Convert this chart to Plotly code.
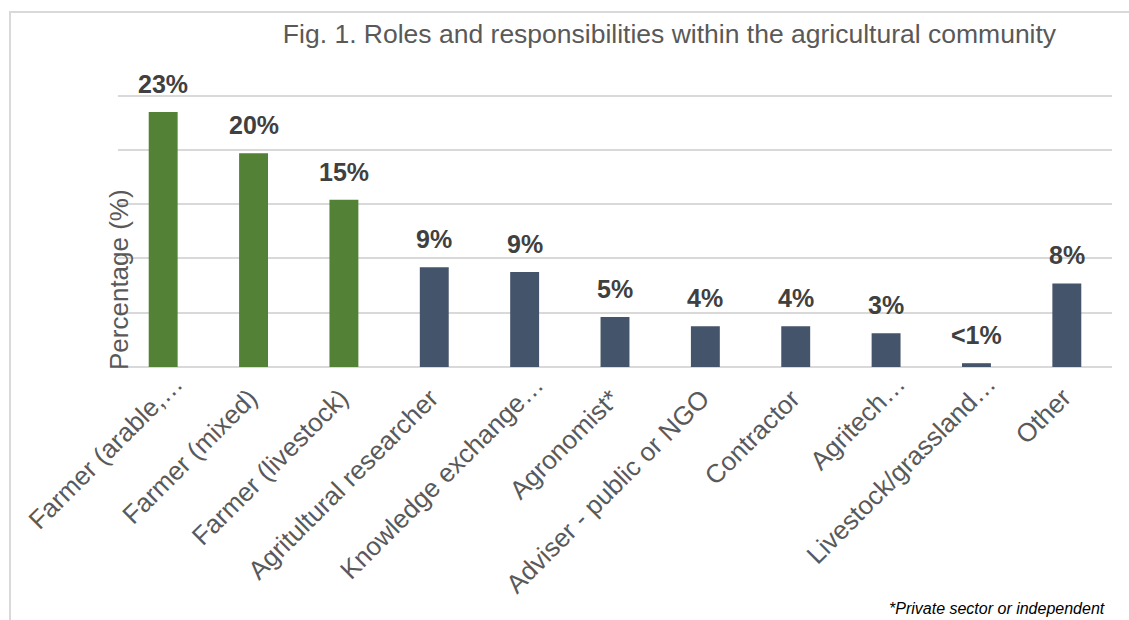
import plotly.graph_objects as go

categories = ["Farmer (arable,…", "Farmer (mixed)", "Farmer (livestock)", "Agritultural researcher",
              "Knowledge exchange…", "Agronomist*", "Adviser - public or NGO", "Contractor",
              "Agritech…", "Livestock/grassland…", "Other"]
values = [23.5, 19.7, 15.4, 9.2, 8.75, 4.6, 3.75, 3.75, 3.1, 0.35, 7.7]
labels = ["23%", "20%", "15%", "9%", "9%", "5%", "4%", "4%", "3%", "<1%", "8%"]
groups = ["farmer", "farmer", "farmer"] + ["other"] * 8
group_colors = {"farmer": "#538135", "other": "#44546A"}

FONT = "Liberation Sans, Arial, sans-serif"
W, H = 1129, 620
L, R, T, B = 118, 17, 94, 253
PW, PH = W - L - R, H - T - B

def px_x(px):
    return (px - L) / PW

def px_y(py):
    return (H - B - py) / PH

fig = go.Figure()
fig.add_trace(go.Bar(
    x=categories, y=values,
    marker=dict(color=[group_colors[g] for g in groups], line=dict(width=0)),
    width=0.32, hoverinfo="x+y",
))

annotations = []
for c, v, t in zip(categories, values, labels):
    annotations.append(dict(x=c, y=v, xref="x", yref="y", text=f"<b>{t}</b>", showarrow=False,
                            yanchor="bottom", xanchor="center", yshift=12,
                            font=dict(family=FONT, size=25, color="#404040")))

# category labels (rotated), anchored at each category on the axis
for c in categories:
    trunc = c.endswith("…")
    annotations.append(dict(x=c, y=0, xref="x", yref="y", text=c, showarrow=False,
                            textangle=-45, xanchor="right", yanchor="top",
                            xshift=13 + (15 if trunc else 0), yshift=-13 + (14 if trunc else 0),
                            font=dict(family=FONT, size=26, color="#595959")))

annotations.append(dict(x=px_x(119), y=px_y(280), xref="paper", yref="paper", text="Percentage (%)",
                        textangle=-90, showarrow=False, xanchor="center", yanchor="middle",
                        font=dict(family=FONT, size=26, color="#595959")))
annotations.append(dict(x=px_x(1107), y=px_y(608), xref="paper", yref="paper",
                        text="<i>*Private sector or independent</i>", showarrow=False,
                        xanchor="right", yanchor="middle",
                        font=dict(family=FONT, size=16, color="#000000")))

fig.update_layout(
    width=W, height=H,
    margin=dict(l=L, r=R, t=T, b=B, pad=0),
    paper_bgcolor="white", plot_bgcolor="white",
    showlegend=False,
    title=dict(text="Fig. 1. Roles and responsibilities within the agricultural community",
               x=669.5 / W, xanchor="center", xref="container",
               y=1 - 24 / H, yanchor="top", yref="container",
               font=dict(family=FONT, size=26.5, color="#595959")),
    annotations=annotations,
    shapes=[dict(type="rect", xref="paper", yref="paper",
                 x0=px_x(10), x1=px_x(1140), y0=px_y(640), y1=px_y(12),
                 line=dict(color="#D9D9D9", width=2), fillcolor="rgba(0,0,0,0)", layer="below")],
    bargap=0.68,
)
fig.update_xaxes(range=[-0.5, len(categories) - 0.5], autorange=False,
                 showticklabels=False, showgrid=False, showline=False, ticks="", zeroline=False)
fig.update_yaxes(range=[0, 25.15], autorange=False, tick0=0, dtick=5, showticklabels=False, showgrid=True,
                 gridcolor="#D9D9D9", gridwidth=1.5, zeroline=True, zerolinecolor="#D9D9D9",
                 zerolinewidth=1.5, showline=False, ticks="")

fig.write_html("out.html", config={"displayModeBar": False},
               post_script="document.body.style.margin='0';document.body.style.overflow='hidden';")
